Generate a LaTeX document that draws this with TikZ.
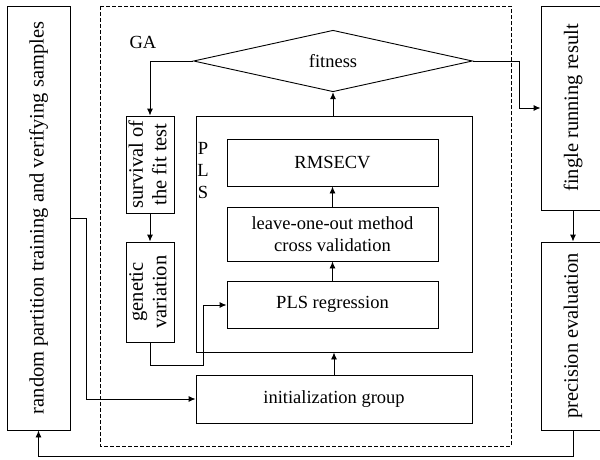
\documentclass[tikz,border=0pt]{standalone}
\usepackage{fontspec}
\setmainfont{Liberation Serif}
\newfontfamily\tnr{Liberation Serif}
\newcommand{\rotfont}{\tnr\fontsize{20.5}{23.5}\selectfont}
\usetikzlibrary{shapes.geometric,arrows.meta}
\begin{document}
\begin{tikzpicture}[x=1pt,y=-1pt,
  every node/.style={font=\tnr\fontsize{18.5}{22}\selectfont, inner sep=0pt},
  box/.style={draw, line width=0.9pt, rectangle},
  arr/.style={line width=0.9pt, -{Latex[length=7pt,width=6pt]}}]
\useasboundingbox (0,0) rectangle (600,460);
% outer dashed GA region
\draw[dash pattern=on 4pt off 2pt, line width=0.7pt] (100,6) rectangle (511,446);
% left box
\node[box, minimum width=63pt, minimum height=424pt] (rand) at (38.5,218)
  {\rotatebox{90}{\rotfont random partition training and verifying samples}};
% right boxes
\node[box, minimum width=64pt, minimum height=204pt] (res) at (573,108)
  {\rotatebox{90}{\rotfont fingle running result}};
\node[box, minimum width=64pt, minimum height=188pt] (prec) at (573,336)
  {\rotatebox{90}{\rotfont precision evaluation}};
% diamond
\node[draw, diamond, line width=0.9pt, minimum width=279pt, minimum height=46pt] (fit) at (333,61) {fitness};
\node (ga) at (143,42) {GA};
% survival / genetic
\node[box, minimum width=48pt, minimum height=97pt] (surv) at (150,164.5)
  {\rotatebox{90}{\rotfont\begin{tabular}{@{}c@{}}survival of\\the fit test\end{tabular}}};
\node[box, minimum width=48pt, minimum height=100pt] (gen) at (150,292)
  {\rotatebox{90}{\rotfont\begin{tabular}{@{}c@{}}genetic\\variation\end{tabular}}};
% PLS outer
\node[box, minimum width=276pt, minimum height=236pt] (pls) at (334,234) {};
\node[align=center, anchor=north] (plsl) at (203,142) {P\\L\\S};
% inner boxes
\node[box, minimum width=211pt, minimum height=47pt] (rmse) at (332.5,162.5) {RMSECV};
\node[box, minimum width=211pt, minimum height=54pt, align=center] (loo) at (332.5,234)
  {leave-one-out method\\cross validation};
\node[box, minimum width=211pt, minimum height=47pt] (reg) at (332.5,304.5) {PLS regression};
\node[box, minimum width=276pt, minimum height=48pt] (init) at (334,399) {initialization group};
% helper coordinates
\coordinate (c1) at (519,61);
\coordinate (c2) at (86,218);
\coordinate (c3) at (150,365);
\coordinate (c4) at (203,365);
\coordinate (c5) at (203,305);
\coordinate (c6) at (573,456);
\coordinate (c7) at (38.5,456);
% connectors
\draw[arr] (fit.west) -| (surv.north);
\draw[arr] (fit.east) -- (c1) |- (res.west);
\draw[arr] (res.south) -- (prec.north);
\draw[arr] (surv.south) -- (gen.north);
\draw[arr] (gen.south) -- (c3) -- (c4) -- (c5) -- (reg.west |- c5);
\draw[arr] (rand.east |- c2) -- (c2) |- (init.west);
\draw[arr] (init.north) -- (pls.south);
\draw[arr] (pls.north -| fit.south) -- (fit.south);
\draw[arr] (reg.north) -- (loo.south);
\draw[arr] (loo.north) -- (rmse.south);
\draw[arr] (prec.south) -- (c6) -- (c7) -- (rand.south);
\end{tikzpicture}
\end{document}
